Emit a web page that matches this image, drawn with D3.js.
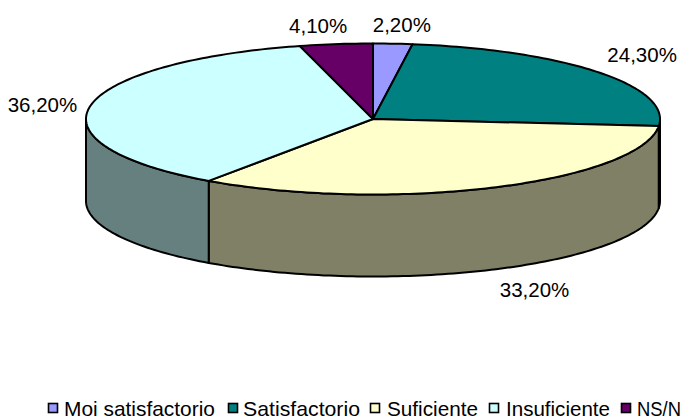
<!DOCTYPE html>
<html>
<head>
<meta charset="utf-8">
<script src="https://cdn.jsdelivr.net/npm/d3@7"></script>
<style>
html, body { margin: 0; padding: 0; background: #fff; overflow: hidden; }
text { font-family: "Liberation Sans", Arial, sans-serif; fill: #000; }
</style>
</head>
<body>
<svg id="chart" width="682" height="419"></svg>
<script>
var categories = ["Moi satisfactorio", "Satisfactorio", "Suficiente", "Insuficiente", "NS/N"];
var values = [2.2, 24.3, 33.2, 36.2, 4.1];
var topColors = ["#9999ff", "#008080", "#ffffcc", "#ccffff", "#660066"];
var sideColors = ["#4c4c80", "#004040", "#808066", "#668080", "#330033"];

var cx = 373, cy = 119, rx = 287, ry = 75.5, depth = 82;

// label nudges away from the rim, same order as values
var labelNudge = [[9, -19], [44, -18], [41, 20], [-48, -1], [-18, -19]];
// legend layout: swatch left edge, text left edge, text width
var legendSwatch = [48, 228, 370, 489, 621];
var legendText = [64, 243, 387, 506, 637];
var legendWidth = [151, 117, 91, 104, 44];

var svg = d3.select("#chart");

var pie = d3.pie().sort(null).value(function(d) { return d; });
var arcs = pie(values);

var xUnit = d3.scaleLinear().domain([-1, 1]).range([cx - rx, cx + rx]);
var yUnit = d3.scaleLinear().domain([-1, 1]).range([cy - ry, cy + ry]);

function px(a) { return xUnit(Math.sin(a)); }
function py(a) { return yUnit(-Math.cos(a)); }

function rim(a0, a1) {
    var n = Math.max(2, Math.ceil((a1 - a0) / 0.02));
    return d3.range(n + 1).map(function(i) {
        var a = a0 + (a1 - a0) * i / n;
        return [px(a), py(a)];
    });
}

var line = d3.line();

// side walls, only the part of the rim that faces front
var lo = Math.PI / 2, hi = Math.PI * 3 / 2;
arcs.forEach(function(d, i) {
    var a0 = Math.max(d.startAngle, lo), a1 = Math.min(d.endAngle, hi);
    if (a1 <= a0) return;
    var upper = rim(a0, a1);
    var lower = upper.map(function(p) { return [p[0], p[1] + depth]; }).reverse();
    svg.append("path")
        .attr("d", line(upper.concat(lower)) + "Z")
        .attr("fill", sideColors[i])
        .attr("stroke", "#000")
        .attr("stroke-width", 2)
        .attr("stroke-linejoin", "round");
});

// top slices
arcs.forEach(function(d, i) {
    var pts = [[xUnit(0), yUnit(0)]].concat(rim(d.startAngle, d.endAngle));
    svg.append("path")
        .attr("d", line(pts) + "Z")
        .attr("fill", topColors[i])
        .attr("stroke", "#000")
        .attr("stroke-width", 2)
        .attr("stroke-linejoin", "round");
});

// value labels
arcs.forEach(function(d, i) {
    var mid = (d.startAngle + d.endAngle) / 2;
    var front = mid > lo && mid < hi;
    svg.append("text")
        .attr("x", px(mid) + labelNudge[i][0])
        .attr("y", py(mid) + (front ? depth : 0) + labelNudge[i][1])
        .attr("text-anchor", "middle")
        .attr("dominant-baseline", "central")
        .attr("font-size", 20.5)
        .text(values[i].toFixed(2).replace(".", ",") + "%");
});

// legend, each text squeezed horizontally to its width
categories.forEach(function(c, i) {
    svg.append("rect")
        .attr("x", legendSwatch[i] + 0.5)
        .attr("y", 403.5)
        .attr("width", 9)
        .attr("height", 9)
        .attr("fill", topColors[i])
        .attr("stroke", "#000")
        .attr("stroke-width", 1.6);
    var t = svg.append("text")
        .attr("font-size", 20.9)
        .text(c);
    var sx = legendWidth[i] / t.node().getComputedTextLength();
    t.attr("transform", "translate(" + legendText[i] + ",416) scale(" + sx + ",1)");
});
</script>
</body>
</html>
